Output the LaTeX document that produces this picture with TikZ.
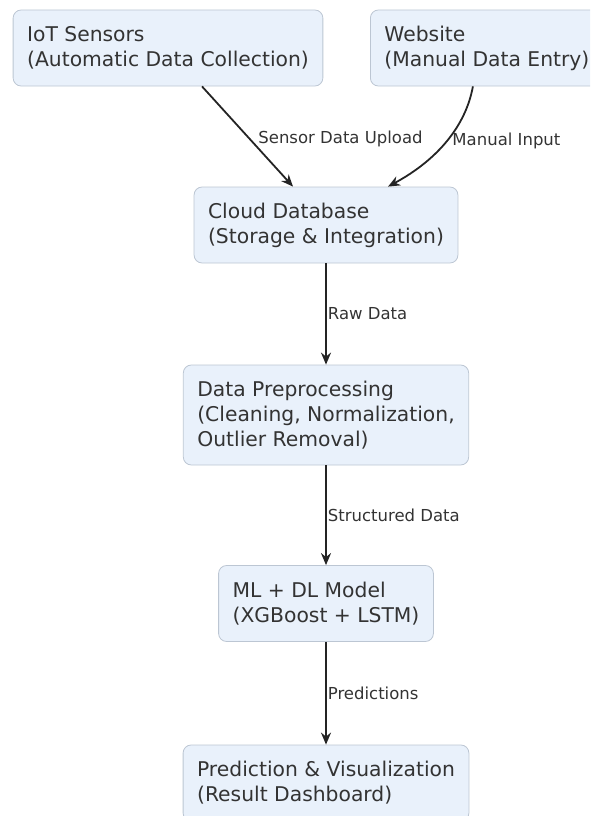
\documentclass[tikz,border=0pt]{standalone}
\usepackage{fontspec}
\setmainfont{DejaVu Sans}
\usetikzlibrary{arrows.meta}

\definecolor{boxfill}{HTML}{E9F1FB}
\definecolor{boxline}{HTML}{BCC6D3}
\definecolor{ink}{HTML}{333333}

\tikzset{
  stage/.style={draw=boxline, fill=boxfill, rounded corners=8pt, line width=0.8pt,
    align=left, text=ink, inner xsep=14pt, minimum height=76pt,
    font=\fontsize{20.3}{24.8}\selectfont},
  flow/.style={draw=ink!70!black, line width=1.8pt, -{Stealth[length=12pt,width=10pt]}},
  tag/.style={text=ink, inner sep=1pt, font=\fontsize{16.5}{19}\selectfont}
}

\begin{document}
\begin{tikzpicture}[x=1pt, y=-1pt]
    \useasboundingbox (0,0) rectangle (590,816);
    \clip (0,0) rectangle (590,816);

    % Nodes
    \node[stage] (iot) at (168,48) {IoT Sensors\\(Automatic Data Collection)};
    \node[stage, anchor=west] (web) at (370,48) {Website\\(Manual Data Entry)};
    \node[stage] (cloud) at (326,225) {Cloud Database\\(Storage \& Integration)};
    \node[stage, minimum height=100pt] (prep) at (326,415) {Data Preprocessing\\(Cleaning, Normalization,\\Outlier Removal)};
    \node[stage] (model) at (326,603.5) {ML + DL Model\\(XGBoost + LSTM)};
    \node[stage] (viz) at (326,783) {Prediction \& Visualization\\(Result Dashboard)};

    % Edges
    \draw[flow] ([xshift=34pt]iot.south) -- node[tag, midway, anchor=west, xshift=9pt, yshift=-2pt] {Sensor Data Upload} ([xshift=-33pt]cloud.north);
    \draw[flow] ([xshift=-14pt]web.south) .. controls +(-7,39) and +(50,-27) .. node[tag, pos=0.5, anchor=west, xshift=4pt] {Manual Input} ([xshift=62pt]cloud.north);
    \draw[flow] (cloud) -- node[tag, midway, anchor=west] {Raw Data} (prep);
    \draw[flow] (prep) -- node[tag, midway, anchor=west] {Structured Data} (model);
    \draw[flow] (model) -- node[tag, midway, anchor=west] {Predictions} (viz);
\end{tikzpicture}
\end{document}
